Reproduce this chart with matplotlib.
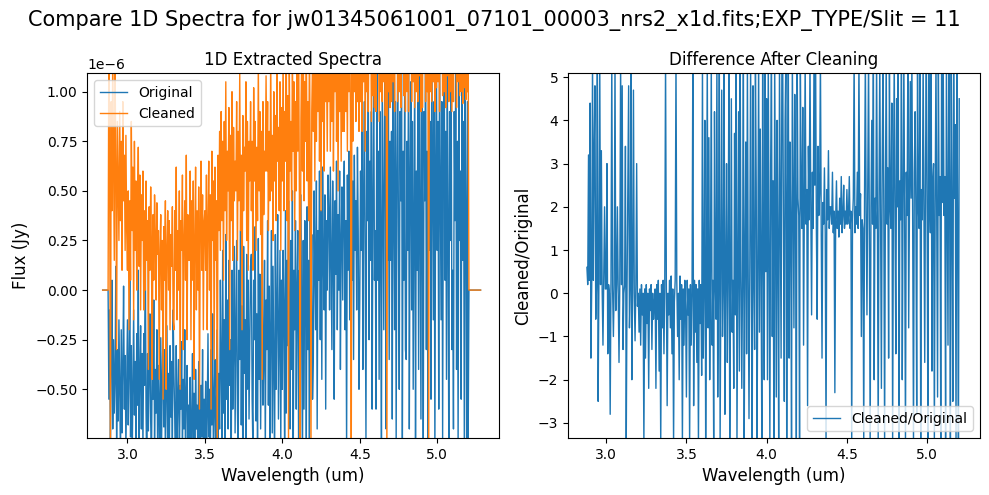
import numpy as np
import matplotlib
matplotlib.use("Agg")
import matplotlib.pyplot as plt

fname = "jw01345061001_07101_00003_nrs2_x1d.fits"
slit = 11

# wavelength grid (um), 0.005 um steps from 2.84 to 5.28
wavelength = np.linspace(2.84, 5.28, 489)
n_lo, n_hi = 8, 16   # empty pixels at each end (flux = 0)

# extracted flux in units of 1e-6 Jy, 2.880 .. 5.200 um
original_in = [
    -0.55, -0.10, -0.82, -0.35, 0.05, -0.70, -0.25, -0.62, -0.45, 0.12, -0.78, -0.30,
    -0.66, -0.15, -0.50, -0.85, -0.20, -0.72, -0.40, 0.02, -0.60, -0.33, -0.80, -0.48,
    -0.15, -0.68, -0.40, 0.08, -0.74, -0.28, -0.90, -0.52, -0.10, -0.63, -0.36, -0.77, -0.22, -0.58, 0.10, -0.85, -0.44, -0.18, -0.70, -0.32,
    -0.80, -0.22, -0.48, 0.25, -0.60, -0.95, -0.32, -0.71, -0.44, -0.12, -0.66, -0.88, -0.30, -0.55, -0.05, -0.76, -0.40, -0.62, -0.20, -0.84,
    -0.38, -0.56, -0.90, -0.24, -0.78, -0.46, -0.15, -0.69, -0.30, -0.85, -0.50, -0.18, -0.75, -0.42, -0.92, -0.28, -0.64, -0.36, -0.80, -0.10,
    -0.42, -0.62, -0.95, -0.28, -0.80, -0.54, -0.35, -0.88, -0.48, -0.60, -0.26, -0.82, -0.45, -0.70, -0.20, -0.93, -0.52, -0.38, -0.76, -0.58,
    -0.76, -0.44, -0.90, -0.66, -0.32, -0.82, -0.52, -0.98, -0.40, -0.70, -0.58, -0.86, -0.36, -0.64, -0.95, -0.48, -0.74, -0.30, -0.88, -0.55,
    -0.78, -0.46, -0.95, -0.64, -0.22, -0.74, -0.50, -0.90, -0.30, -0.68, -0.12, -0.84, -0.56, -0.35, -0.92, -0.60, -0.20, -0.80, -0.42, -0.70,
    0.05, -0.40, -0.75, 0.20, -0.62, -0.15, -0.85, 0.28, -0.55, -0.05, -0.70, 0.15, -0.48, -0.25, -0.90, 0.10, -0.60, -0.30, 0.22, -0.72,
    -0.20, 0.25, -0.60, -0.85, 0.10, -0.35, 0.30, -0.68, -0.08, -0.92, 0.22, -0.42, -0.15, -0.78, 0.18, -0.50, 0.05, -0.65, -0.28, 0.12,
    0.18, -0.55, -0.80, 0.05, -0.25, 0.32, -0.66, -0.12, -0.88, 0.26, -0.45, 0.08, -0.70, -0.20, 0.30, -0.58, -0.35, 0.15, -0.82, -0.05,
    -0.30, 0.35, -0.58, 0.02, -0.85, -0.18, 0.30, -0.72, 0.12, -0.38, -0.90, 0.28, -0.50, -0.10, 0.38, -0.65, -0.25, 0.20, -0.78, 0.05,
    -0.50, 0.20, -0.10, -0.85, 0.40, -0.62, 0.15, -0.28, 0.45, -0.05, -0.70, 0.25, -0.40, 0.50, -0.95, 0.10, -0.20, 0.35, -0.60, 0.00,
    0.30, -0.80, 0.10, -0.40, 0.48, -0.22, -0.90, 0.25, -0.60, 0.35, 0.00, -0.75, 0.42, -0.30, 0.15, -0.85, 0.52, -0.15, 0.28, -0.55,
    -0.35, 0.50, 0.10, -0.20, 0.55, -0.70, 0.30, 0.05, 0.60, -0.25, 0.40, -0.45, 0.62, 0.15, -0.10, 0.48, -0.60, 0.35, 0.00, 0.58,
    0.40, -0.10, 0.62, 0.15, -0.30, 0.55, 0.20, -0.55, 0.45, 0.08, 0.65, -0.20, 0.38, 0.00, 0.60, -0.40, 0.25, 0.52, -0.05, 0.44,
    0.65, -0.20, 0.35, -0.80, 0.58, 0.10, 0.70, -0.15, 0.40, 0.75, 0.05, 0.55, -0.35, 0.68, 0.20, 0.45, -0.10, 0.72, 0.30, -0.50,
    -0.05, 0.60, 0.20, 0.85, -0.40, 0.50, 0.95, 0.10, -0.75, 0.80, 0.35, 1.05, -0.25, 0.65, 0.15, 0.90, -0.60, 0.45, 1.15, 0.05,
    0.30, -0.60, 1.20, 0.05, 0.70, -0.45, 0.90, 0.25, -0.80, 1.10, 0.40, -0.20, 0.85, 1.30, -0.70, 0.55, 0.15, 1.00, -0.35, 0.75,
    0.15, 0.80, -0.65, 1.30, 0.40, -0.20, 0.95, -0.78, 0.60, 1.15, 0.25, -0.50, 0.90, 0.45, 1.25, -0.85, 0.70, 0.05, 1.05, -0.30,
    -0.35, 0.75, 0.20, 1.25, -0.70, 0.55, 1.05, -0.10, 0.85, -0.50, 0.35, 1.20, -0.80, 0.60, 0.10, 0.95, -0.40, 1.30, 0.30, -0.65,
    1.20, 0.30, -0.80, 0.90, 0.45, 1.35, -0.30, 0.70, -0.78, 1.10, 0.20, 0.85, -0.55, 1.25, 0.50, -0.15, 0.95, -0.85, 0.65, 1.15,
    0.20, 0.85, -0.60, 1.25, 0.50, -0.15, 0.95, -0.75, 0.65, 1.30, 0.05, 0.80, -0.45, 1.10, 0.35, -0.85, 0.90, 0.25, 1.20, -0.30,
    0.10, -0.70, 0.90, 0.35, 1.20, -0.40, 0.75, -0.80, 1.05, 0.25, 0.60, -0.55, 1.30, 0.15, 0.85, -0.75, 1.10, 0.40, -0.85, 0.95,
    -0.75,
]

cleaned_in = [
    1.30, 0.60, -0.85, 0.95, 0.40, 1.20, 0.70, 0.15, 1.10, 0.65, -0.30, 0.85,
    0.55, 0.25, 0.90, 0.35, 0.75, 0.10, 0.95, 0.45, 0.68, 0.20, 0.78, 0.30,
    0.10, 0.50, -0.20, 0.45, 0.05, 0.85, 0.30, 0.62, -0.15, 0.75, 0.20, 0.55, 0.00, 0.42, 0.72, 0.12, 0.58, -0.10, 0.48, 0.25,
    0.60, -0.10, 0.40, 0.00, 0.55, 0.15, 0.35, -0.40, 0.42, 0.10, 0.52, 0.20, -0.45, 0.38, 0.05, 0.48, 0.28, -0.05, 0.44, 0.18,
    0.30, -0.45, 0.20, 0.38, -0.10, 0.25, -0.55, 0.32, 0.05, 0.45, -0.50, 0.22, 0.40, 0.00, 0.35, -0.20, 0.28, 0.12, 0.42, -0.15,
    -0.20, 0.40, 0.10, 0.62, -0.15, 0.30, 0.00, 0.50, -0.50, 0.35, 0.20, 0.58, -0.30, 0.25, 0.45, 0.05, 0.68, -0.25, 0.38, 0.15,
    0.15, 0.60, -0.25, 0.45, 0.05, 0.55, -0.45, 0.25, 0.62, -0.10, 0.40, 0.00, 0.52, -0.60, 0.30, 0.65, 0.10, 0.48, -0.20, 0.35,
    0.40, 0.10, 0.58, -0.20, 0.35, 0.65, 0.00, 0.48, -0.60, 0.70, 0.25, 0.55, -0.35, 0.62, 0.15, 0.45, -0.85, 0.68, 0.30, 0.80,
    0.20, 0.90, 0.35, 0.75, 0.05, 0.85, 0.40, 1.05, 0.25, 0.70, 0.50, 0.92, -0.30, 0.78, 0.35, 1.00, 0.15, 0.82, 0.45, 0.65,
    0.50, 0.95, 0.15, 0.80, 0.45, 1.10, 0.30, 0.68, -0.20, 0.88, 0.40, 0.72, 0.60, 1.05, 0.25, 0.85, 0.10, 0.75, 0.55, 0.95,
    0.40, 0.75, 0.10, 1.02, 0.55, 0.85, 0.20, 0.72, 0.35, 1.15, 0.50, 0.90, 0.28, 0.80, -0.45, 0.95, 0.38, 0.70, 0.60, 1.08,
    0.60, 0.95, 0.30, 0.80, 0.45, 1.20, 0.50, 0.78, 0.25, 1.00, 0.55, 0.88, 0.35, 1.12, 0.65, 0.82, 0.40, 1.05, 0.20, 0.92,
    0.55, 1.25, 0.40, 0.90, 0.65, 1.30, 0.35, 0.98, -0.80, 1.15, 0.60, 0.85, 0.45, 1.20, 0.70, 1.05, 0.30, 0.95, 0.50, 1.35,
    0.70, 1.35, 0.50, -0.80, 0.85, 1.20, 0.60, 1.40, 0.45, 1.05, 0.75, 1.25, 0.55, 0.95, 0.35, 1.30, 0.65, -0.85, 0.90, 1.15,
    0.80, 1.30, 0.55, 1.45, 0.75, 1.20, 0.90, 1.50, 0.65, 1.25, 0.40, 1.35, 0.85, 1.10, 0.60, 1.40, 0.95, 1.20, 0.70, 1.30,
    0.95, 1.40, 0.70, 1.35, 0.85, 1.55, 0.60, 1.30, 1.00, 1.45, 0.75, 1.25, 0.50, 1.40, 0.90, 1.35, 0.65, 1.50, 0.80, 1.20,
    0.80, 1.50, 0.90, 1.30, 0.70, 1.45, 1.00, 1.40, 0.85, -0.90, 1.40, 0.75, 1.60, 1.00, 1.35, 0.85, 1.50, 0.95, 1.30, 0.80,
    1.45, 0.95, 1.60, 0.80, 1.30, 1.05, 1.55, 0.70, 1.40, 1.00, 1.50, 0.90, 1.35, 1.10, 1.60, 0.85, 1.45, 0.98, 1.30, 0.92,
    1.50, 0.90, 1.65, 1.10, 1.45, 0.85, 1.60, 1.00, 1.40, 0.95, 1.55, 1.05, 1.35, 0.88, 1.50, -0.90, 1.35, 1.00, 1.60, 0.92,
    1.55, 0.95, 1.70, 1.05, 1.40, 0.90, 1.60, 1.15, 1.50, 0.95, 1.45, 1.00, 1.65, 0.92, 1.35, 1.10, 1.55, 0.98, 1.40, 0.90,
    1.65, 1.00, 1.45, 0.90, 1.70, 1.10, 1.55, 0.95, 1.60, 1.05, 1.40, 0.92, 1.50, 1.00, 1.65, 0.95, 1.45, 1.08, 1.55, 0.90,
    1.40, 0.92, 1.65, 1.15, 1.50, 0.95, 1.60, 1.00, 1.45, -0.90, 1.70, 1.00, 1.45, 0.95, 1.55, 1.05, 1.40, 0.90, 1.60, 1.02,
    1.60, 1.05, 1.50, 0.90, 1.75, 1.10, 1.45, 0.98, 1.65, 1.00, 1.55, 0.92, 1.40, 1.08, 1.60, 0.95, 1.50, 1.00, 1.45, 0.90,
    1.55, 0.95, 1.70, 1.10, 1.40, 0.92, 1.60, 1.05, 1.50, 0.98, 1.45, 1.00, 1.65, 0.94, 1.35, 1.02, 1.55, 0.96, 1.60, 1.00,
    1.20,
]

# cleaned/original, 2.880 .. 5.200 um
ratio = [
    0.6, 0.2, 3.2, 0.3, 4.4, -1.5, 0.2, 5.5, 0.3, 3.3, 4.8, -0.6,
    0.2, 5.5, -2.5, 0.4, 5.5, 0.2, 3.3, 0.1, -1.2, 0.3, 2.0, 0.1,
    0.1, 3.0, -1.4, 0.2, 0.0, -2.8, 0.3, 5.5, 0.1, -1.0, 0.2, 5.5, -0.4, 0.2, 2.0, 0.0, -1.6, 0.3, 5.5, 0.2,
    4.8, -1.3, 0.0, 0.2, 3.4, -3.5, 0.1, 2.3, 4.8, -0.8, 0.1, 5.5, -2.0, 0.3, 4.7, 0.0, -1.1, 0.2, 3.0, -0.3,
    0.0, -0.9, 0.1, -1.2, 0.2, -0.5, 0.0, -3.5, 0.1, -1.5, 0.2, -0.7, 0.0, -2.2, 0.1, -0.4, 0.2, -1.3, 0.0, -0.6,
    -0.3, 0.1, -2.2, 0.2, -0.6, 0.3, -1.8, 0.0, -3.5, 0.2, -0.8, 0.3, -1.4, 0.1, 5.5, 0.2, -2.6, 0.0, -0.5, 0.3,
    -0.8, 0.4, -1.4, 0.1, -3.5, -0.2, 0.3, 5.5, 0.3, -1.0, 0.0, -2.0, 0.4, -0.6, 0.2, -3.5, 0.1, -1.2, 0.3, -0.4,
    -2.4, 0.3, -0.5, 0.1, -3.5, 0.2, -1.2, 0.0, 5.5, -2.6, 0.3, -0.9, 0.2, -1.6, 0.1, -3.5, 0.3, -0.7, 0.2, -1.9,
    5.5, -1.5, 0.2, 4.0, -3.5, 0.4, 5.5, -0.8, 3.6, -2.0, 0.5, 5.5, -1.2, 0.3, -3.5, 4.2, 0.2, -0.6, 5.5, -2.4,
    0.3, 5.5, -3.5, 0.5, 4.7, -1.0, 0.2, 5.5, -2.8, 0.4, 3.0, -1.6, 0.6, 5.5, -3.5, 0.2, 4.5, -0.9, 0.3, -2.2,
    3.7, -0.5, 5.5, -3.5, 0.6, 4.2, -1.8, 5.5, 0.3, -2.2, 0.5, 5.5, -3.5, 0.8, 3.5, -1.4, 5.5, 0.4, -2.9, 0.6,
    5.5, 0.5, -3.5, 4.8, 0.4, -1.3, 5.5, 2.5, -3.5, 0.6, 5.5, -0.9, 3.8, 0.7, -3.5, 5.5, 1.0, -2.0, 5.5, 0.5,
    4.5, -2.0, 5.5, 0.8, -3.5, 3.0, 5.5, -1.0, 2.6, -3.5, 5.5, 1.4, -2.4, 4.0, 0.9, -3.5, 5.5, 2.1, -1.5, 5.5,
    5.5, 1.2, -2.5, 4.0, 5.5, -3.5, 2.0, 5.5, -1.5, 3.5, 1.6, -3.5, 5.5, 2.3, -0.8, 4.6, 1.9, -3.5, 5.5, 2.2,
    1.8, -3.5, 5.5, 2.2, 1.5, 4.3, -1.2, 2.0, 5.5, 1.6, 2.4, -2.6, 3.4, 1.7, 5.5, 2.0, -0.5, 2.8, 1.5, 5.5,
    2.5, 5.5, 1.4, -0.6, 3.4, 1.8, 2.3, 5.5, 1.5, -1.5, 2.1, 1.6, 2.9, 1.4, -3.5, 2.4, 1.7, 3.3, 1.5, 2.0,
    2.0, 1.6, 2.8, 1.4, 1.9, -2.3, 1.7, 2.6, 1.5, 1.9, 1.3, 2.2, 1.6, 2.7, 1.4, 1.8, 2.5, 1.5, 1.9, 1.6,
    2.4, 1.6, 1.8, 2.7, 1.5, 1.9, -3.5, 1.7, 2.2, 5.5, 1.4, 2.0, 1.6, 2.8, 1.5, 5.5, 1.8, 2.3, -1.0, 1.7,
    1.5, -3.5, 2.3, 5.5, 1.8, -0.5, 2.6, 5.5, 1.4, -3.5, 2.0, 4.0, 1.6, 5.5, -2.0, 2.2, 1.5, 5.5, 1.9, -3.5,
    2.2, 5.5, 1.7, -2.2, 3.0, 5.5, 1.9, -3.5, 2.4, 5.5, 1.6, 2.9, -1.5, 5.5, 2.0, 1.5, 4.4, -3.5, 2.3, 5.5,
    1.6, -1.4, 4.5, 2.0, 5.5, -3.5, 2.6, 1.7, 5.5, -2.0, 2.2, 5.5, 1.5, -3.5, 2.8, 1.8, 5.5, -0.8, 2.1, 4.9,
    2.2, 5.5, 1.5, -3.5, 2.8, 4.2, 1.8, -2.8, 5.5, 2.0, 1.5, 5.5, -3.5, 2.4, 1.7, 5.5, 2.0, -1.6, 3.0, 5.5,
    1.7, -3.5, 5.5, 2.3, 1.4, 5.5, -1.8, 2.6, 3.0, -3.5, 2.0, 5.5, 1.5, -2.4, 5.5, 1.8, 2.7, -3.5, 5.5, 2.1,
    5.5, 1.8, 2.7, -3.5, 5.5, 2.0, -1.2, 5.5, 2.4, -3.5, 5.5, 1.9, -2.5, 5.5, 2.2, 3.9, -3.5, 5.5, 1.6, -3.5,
    4.5,
]

flux_scale = 1e-6
pad_lo = [0.0] * n_lo
pad_hi = [0.0] * n_hi
orig = np.array(pad_lo + original_in + pad_hi) * flux_scale
clean = np.array(pad_lo + cleaned_in + pad_hi) * flux_scale
ratio_wave = wavelength[n_lo:n_lo + len(ratio)]

fig, (ax1, ax2) = plt.subplots(1, 2, figsize=(9.89, 4.95), dpi=100)
fig.subplots_adjust(left=0.088, right=0.991, bottom=0.115, top=0.852, wspace=0.167)
fig.suptitle(f"Compare 1D Spectra for {fname};EXP_TYPE/Slit = {slit}", fontsize=15)

ax1.plot(wavelength, orig, lw=1, label="Original")
ax1.plot(wavelength, clean, lw=1, label="Cleaned")
ax1.set_xlim(2.739, 5.40)
ax1.set_ylim(-0.746e-6, 1.093e-6)
ax1.set_xlabel("Wavelength (um)", fontsize=12)
ax1.set_ylabel("Flux (Jy)", fontsize=12)
ax1.set_title("1D Extracted Spectra")
ax1.legend(loc="upper left")

ax2.plot(ratio_wave, ratio, lw=1, label="Cleaned/Original")
ax2.set_xlim(2.762, 5.33)
ax2.set_ylim(-3.35, 5.09)
ax2.set_xlabel("Wavelength (um)", fontsize=12)
ax2.set_ylabel("Cleaned/Original", fontsize=12)
ax2.set_title("Difference After Cleaning")
ax2.legend(loc="lower right")

plt.savefig("out.png")
